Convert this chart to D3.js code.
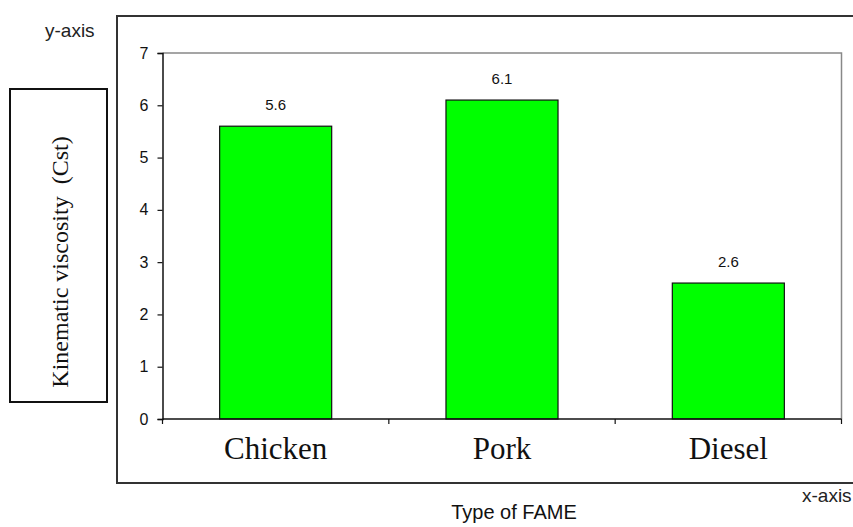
<!DOCTYPE html>
<html>
<head>
<meta charset="utf-8">
<script src="https://cdn.jsdelivr.net/npm/d3@7"></script>
<style>
  html, body { margin: 0; padding: 0; background: #fff; }
  svg { display: block; }
</style>
</head>
<body>
<svg id="chart" width="853" height="527"></svg>
<script>
// Kinematic viscosity of each fuel type
const categories = ["Chicken", "Pork", "Diesel"];
const viscosity = [5.6, 6.1, 2.6];
const yTicks = [0, 1, 2, 3, 4, 5, 6, 7];
const valueLabels = ["5.6", "6.1", "2.6"];

const svg = d3.select("#chart");

// plot area
const plot = { left: 162.5, right: 841.5, top: 53, bottom: 419 };

const x = d3.scaleBand()
  .domain(categories)
  .range([plot.left, plot.right])
  .paddingInner(0.505)
  .paddingOuter(0.2525);

const y = d3.scaleLinear()
  .domain([0, 7])
  .range([plot.bottom, plot.top]);

// outer chart frame
svg.append("rect")
  .attr("x", 117).attr("y", 16)
  .attr("width", 760).attr("height", 467)
  .attr("fill", "none")
  .attr("stroke", "#333")
  .attr("stroke-width", 2);

// boxed y title
svg.append("rect")
  .attr("x", 10).attr("y", 89)
  .attr("width", 97).attr("height", 313)
  .attr("fill", "#fff")
  .attr("stroke", "#111")
  .attr("stroke-width", 2);

svg.append("text")
  .attr("transform", "translate(68,262) rotate(-90)")
  .attr("text-anchor", "middle")
  .attr("font-family", "'Liberation Serif', 'Times New Roman', serif")
  .attr("font-size", 24)
  .attr("fill", "#111")
  .attr("xml:space", "preserve")
  .text("Kinematic viscosity  (Cst)");

// plot area border (top and right, gray)
svg.append("path")
  .attr("d", `M${plot.left},${plot.top}H${plot.right}V${plot.bottom}`)
  .attr("fill", "none")
  .attr("stroke", "#888")
  .attr("stroke-width", 1.5);

// bars
svg.append("g")
  .selectAll("rect")
  .data(categories)
  .join("rect")
  .attr("x", d => x(d))
  .attr("y", (d, i) => y(viscosity[i]))
  .attr("width", x.bandwidth())
  .attr("height", (d, i) => y(0) - y(viscosity[i]))
  .attr("fill", "#00ff00")
  .attr("stroke", "#111")
  .attr("stroke-width", 1.2);

// value labels
svg.append("g")
  .selectAll("text")
  .data(categories)
  .join("text")
  .attr("x", d => x(d) + x.bandwidth() / 2)
  .attr("y", (d, i) => y(viscosity[i]) - 16)
  .attr("text-anchor", "middle")
  .attr("font-family", "'Liberation Sans', Arial, sans-serif")
  .attr("font-size", 15)
  .attr("fill", "#111")
  .text((d, i) => valueLabels[i]);

// y axis
const yAxis = svg.append("g")
  .attr("transform", `translate(${plot.left},0)`)
  .call(d3.axisLeft(y).tickValues(yTicks).tickFormat(d3.format("d")).tickSize(5).tickPadding(9));
yAxis.select(".domain").attr("stroke", "#111").attr("stroke-width", 1.5);
yAxis.selectAll(".tick line").attr("stroke", "#111").attr("stroke-width", 1.2);
yAxis.selectAll(".tick text")
  .attr("font-family", "'Liberation Sans', Arial, sans-serif")
  .attr("font-size", 16)
  .attr("fill", "#111");

// x axis line with ticks at category boundaries
const step = x.step();
const boundaries = d3.range(categories.length + 1).map(i => plot.left + i * step);
svg.append("line")
  .attr("x1", plot.left).attr("x2", plot.right)
  .attr("y1", y(0)).attr("y2", y(0))
  .attr("stroke", "#111").attr("stroke-width", 1.5);
svg.append("g")
  .selectAll("line")
  .data(boundaries)
  .join("line")
  .attr("x1", d => d).attr("x2", d => d)
  .attr("y1", y(0)).attr("y2", y(0) + 5)
  .attr("stroke", "#111").attr("stroke-width", 1.2);

// category labels
svg.append("g")
  .selectAll("text")
  .data(categories)
  .join("text")
  .attr("x", d => x(d) + x.bandwidth() / 2)
  .attr("y", 459)
  .attr("text-anchor", "middle")
  .attr("font-family", "'Liberation Serif', 'Times New Roman', serif")
  .attr("font-size", 31)
  .attr("fill", "#111")
  .text(d => d);

// axis captions
const sans = "'Liberation Sans', Arial, sans-serif";
svg.append("text")
  .attr("x", 45).attr("y", 37)
  .attr("font-family", sans).attr("font-size", 19).attr("fill", "#222")
  .text("y-axis");

svg.append("text")
  .attr("x", 802).attr("y", 502)
  .attr("font-family", sans).attr("font-size", 19).attr("fill", "#222")
  .text("x-axis");

svg.append("text")
  .attr("x", 514).attr("y", 519)
  .attr("text-anchor", "middle")
  .attr("font-family", sans).attr("font-size", 20).attr("fill", "#111")
  .text("Type of FAME");
</script>
</body>
</html>
